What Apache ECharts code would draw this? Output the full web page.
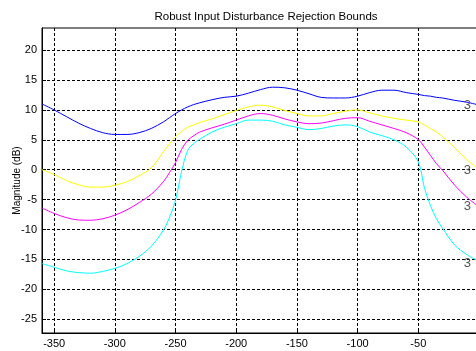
<!DOCTYPE html>
<html>
<head>
<meta charset="utf-8">
<script src="https://cdn.jsdelivr.net/npm/echarts@6/dist/echarts.min.js"></script>
<style>
  html, body { margin: 0; padding: 0; background: #fff; }
  #chart { width: 476px; height: 351px; }
</style>
</head>
<body>
<div id="chart"></div>
<script>
// frequency axis (deg / phase-like), shared by all curves
var xValues = [-360, -350, -340, -330, -320, -310, -300, -290, -280, -270, -260, -255, -250, -245, -240, -235, -230, -220, -210, -200,
  -190, -180, -170, -160, -150, -140, -130, -120, -110, -100, -90, -80, -70, -60, -50, -45, -40, -35, -30, -20, -10, 0];

var blueVals = [11.0, 10.0, 8.9, 7.8, 6.9, 6.2, 5.9, 5.9, 6.2, 6.9, 8.0, 8.7, 9.4, 10.0, 10.5, 10.9, 11.2, 11.7, 12.1, 12.3,
  12.8, 13.4, 13.8, 13.7, 13.3, 12.7, 12.1, 12.0, 12.0, 12.3, 12.9, 13.3, 13.3, 12.9, 12.6, 12.4, 12.3, 12.1, 12.0, 11.6, 11.3, 10.8];

var yellowVals = [0.0, -0.8, -1.8, -2.5, -2.9, -2.9, -2.6, -2.0, -1.0, 0.3, 3.0, 4.3, 5.5, 6.4, 7.1, 7.5, 7.9, 8.5, 9.2, 9.9,
  10.5, 10.8, 10.5, 9.9, 9.4, 9.0, 9.0, 9.4, 9.8, 10.0, 9.5, 9.0, 8.6, 8.3, 8.0, 7.5, 6.9, 6.3, 5.5, 3.7, 1.7, 0.0];

var magentaVals = [-6.4, -7.3, -8.0, -8.4, -8.45, -8.2, -7.6, -6.7, -5.5, -4.1, -2.0, -0.5, 1.2, 3.4, 4.9, 5.7, 6.3, 7.0, 7.6, 8.3,
  9.0, 9.4, 9.1, 8.5, 8.0, 7.7, 7.8, 8.2, 8.6, 8.7, 8.1, 7.5, 6.9, 6.2, 5.05, 3.8, 2.4, 1.0, -0.1, -2.6, -4.6, -6.2];

var cyanVals = [-15.7, -16.3, -16.9, -17.2, -17.3, -17.0, -16.5, -15.7, -14.5, -12.8, -10.1, -8.0, -5.1, -0.3, 3.2, 4.4, 5.1, 6.3, 7.1, 7.7,
  8.3, 8.3, 8.1, 7.5, 7.1, 6.7, 6.9, 7.3, 7.5, 7.2, 6.3, 5.7, 5.0, 3.8, 1.3, -3.0, -6.0, -8.2, -9.8, -12.6, -14.2, -15.3];

var yTicks = [-25, -20, -15, -10, -5, 0, 5, 10, 15, 20];
var xTicks = [-350, -300, -250, -200, -150, -100, -50];

// the "3" tags drawn next to each curve near the right edge
var tagText = '3';
var tagX = -9.6;
var tagY = [10.7, -0.1, -6.2, -15.6];

var chart = echarts.init(document.getElementById('chart'));

function pair(ys) {
  return xValues.map(function (x, i) { return [x, ys[i]]; });
}

function curve(name, color, ys, tagIdx) {
  return {
    name: name,
    type: 'line',
    data: pair(ys),
    smooth: 0.35,
    showSymbol: false,
    lineStyle: { color: color, width: 1 },
    itemStyle: { color: color },
    animation: false,
    silent: true,
    markPoint: {
      symbol: 'circle',
      symbolSize: 0,
      silent: true,
      label: {
        show: true,
        position: 'inside',
        formatter: tagText,
        color: '#555',
        fontSize: 13,
        fontFamily: 'Liberation Sans'
      },
      data: [{ coord: [tagX, tagY[tagIdx]] }]
    }
  };
}

var option = {
  animation: false,
  backgroundColor: '#fff',
  title: {
    text: 'Robust Input Disturbance Rejection Bounds',
    left: 261,
    top: 6,
    textAlign: 'center',
    textStyle: {
      fontSize: 11.5,
      fontWeight: 'normal',
      color: '#000',
      fontFamily: 'Liberation Sans'
    }
  },
  grid: {
    left: 42,
    right: -3,
    top: 28,
    bottom: 18,
    outerBoundsMode: 'none',
    containLabel: false,
    show: true,
    borderColor: '#000',
    borderWidth: 1
  },
  xAxis: {
    type: 'value',
    min: -360,
    max: 0,
    axisLine: { show: true, onZero: false, lineStyle: { color: '#000', width: 1 } },
    axisTick: { show: true, inside: true, length: 4, customValues: xTicks, lineStyle: { color: '#000' } },
    axisLabel: {
      customValues: xTicks,
      color: '#000',
      fontSize: 11,
      margin: 5,
      fontFamily: 'Liberation Sans'
    },
    splitLine: { show: true, lineStyle: { color: '#000', type: [3, 2], width: 1 } }
  },
  yAxis: {
    type: 'value',
    min: -27.3,
    max: 23.7,
    name: 'Magnitude (dB)',
    nameLocation: 'middle',
    nameGap: 20,
    nameMoveOverlap: false,
    nameTextStyle: { color: '#000', fontSize: 10, fontFamily: 'Liberation Sans' },
    axisLine: { show: true, onZero: false, lineStyle: { color: '#000', width: 1 } },
    axisTick: { show: true, inside: true, length: 4, customValues: yTicks, lineStyle: { color: '#000' } },
    axisLabel: {
      customValues: yTicks,
      color: '#000',
      fontSize: 11,
      margin: 5,
      fontFamily: 'Liberation Sans'
    },
    splitLine: { show: true, lineStyle: { color: '#000', type: [3, 2], width: 1 } }
  },
  series: [
    curve('blue', '#0000ff', blueVals, 0),
    curve('yellow', '#ffff00', yellowVals, 1),
    curve('magenta', '#ff00ff', magentaVals, 2),
    curve('cyan', '#00ffff', cyanVals, 3)
  ]
};

chart.setOption(option);
</script>
</body>
</html>
